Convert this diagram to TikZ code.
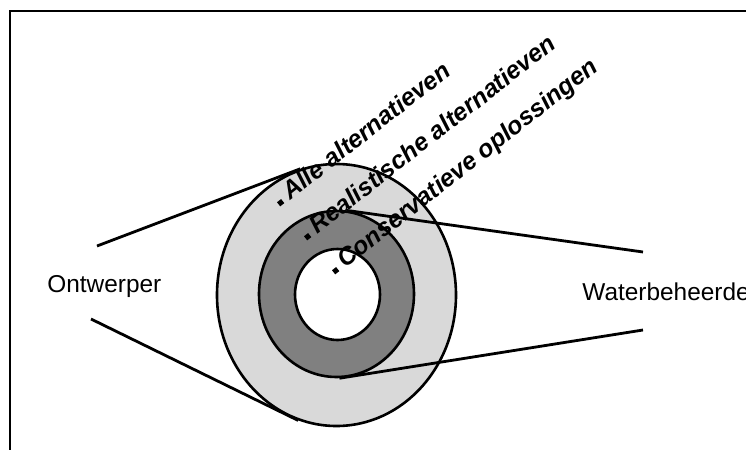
\documentclass[tikz,border=0pt]{standalone}
\usepackage{fontspec}
\setmainfont{Liberation Sans}
\setsansfont{Liberation Sans}
\usetikzlibrary{shapes.geometric}
\definecolor{ink}{HTML}{000000}
\definecolor{wash}{HTML}{D9D9D9}
\definecolor{shade}{HTML}{808080}
\tikzset{
  font=\sffamily\fontsize{12.2}{14}\selectfont,
  %
  ring/.style={ellipse, draw=ink, line width=1.3pt, inner sep=0pt},
  ringouter/.style={ring, fill=wash},
  ringmid/.style={ring, fill=shade},
  ringcore/.style={ring, fill=white},
  %
  spoke/.style={draw=ink, line width=1.4pt},
  frame/.style={draw=ink, line width=0.8pt},
  %
  lbl/.style={anchor=base west, inner sep=0pt, text=ink},
  tag/.style={lbl, rotate=38,
              font=\sffamily\bfseries\itshape\fontsize{12.4}{14}\selectfont},
}
\newcommand{\bulletsq}{\raisebox{0.9pt}{\rule{2.6pt}{2.6pt}}\hspace{3.2pt}}

\begin{document}
\begin{tikzpicture}[x=0.5pt, y=-0.5pt]
  \useasboundingbox (0,0) rectangle (746,450);

  % ---- frame ------------------------------------------------------------
  \draw[frame] (746,11) -- (10,11) -- (10,450);

  % ---- rings ------------------------------------------------------------
  \node[ringouter, minimum width=119.5pt, minimum height=131pt] (outer) at (336.5,295) {};
  \node[ringmid,   minimum width=77.5pt,  minimum height=83pt]  (mid)   at (336.5,294) {};
  \node[ringcore,  minimum width=42.5pt,  minimum height=45.5pt] (core) at (337.5,294.5) {};

  % ---- actors -----------------------------------------------------------
  \node[lbl] (designer) at (47,292)  {Ontwerper};
  \node[lbl] (manager)  at (582,300) {Waterbeheerder};

  \coordinate (dtop) at (97,246);
  \coordinate (dbot) at (91,319);
  \coordinate (mtop) at (643,252);
  \coordinate (mbot) at (643,330);

  % ---- view lines -------------------------------------------------------
  \draw[spoke] (dtop) -- (outer.106);
  \draw[spoke] (dbot) -- (outer.253);
  \draw[spoke] (mid.83)  -- (mtop);
  \draw[spoke] (mid.272) -- (mbot);

  % ---- ring labels ------------------------------------------------------
  \node[tag] (all)  at (281,208) {\bulletsq Alle alternatieven};
  \node[tag] (real) at (308,242) {\bulletsq Realistische alternatieven};
  \node[tag] (cons) at (336,276) {\bulletsq Conservatieve oplossingen};

\end{tikzpicture}
\end{document}
